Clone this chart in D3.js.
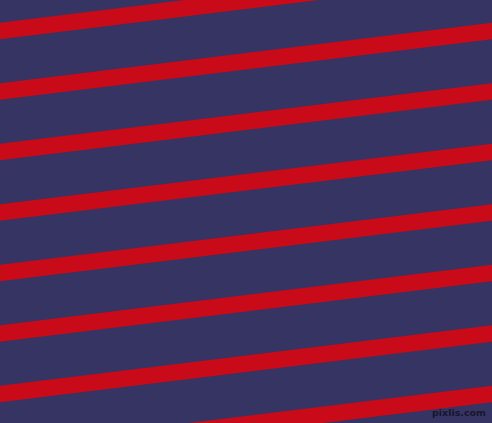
<!DOCTYPE html>
<html>
<head>
<meta charset="utf-8">
<script src="https://cdn.jsdelivr.net/npm/d3@7"></script>
<style>
  html, body { margin: 0; padding: 0; background: #353462; overflow: hidden; }
</style>
</head>
<body>
<div class="svg"></div>
<script>
// stripe pattern: index of each red band, band angle and spacing
var stripeIndex = [-1, 0, 1, 2, 3, 4, 5, 6, 7];
var stripeAngle = 7;        // degrees, bands rise to the right
var stripePeriod = 60.05;   // distance between bands, measured across them
var stripeFirst = 22.5;     // offset of band 0
var stripeWidth = 16.4;
var watermark = ['pixlis.com'];

var width = 492;
var height = 423;

var svg = d3.select('div.svg')
    .append('svg')
    .attr('width', width)
    .attr('height', height)

svg.append('rect')
    .attr('width', width)
    .attr('height', height)
    .attr('fill', '#353462')

var v = d3.scaleLinear()
    .domain([0, 1])
    .range([stripeFirst, stripeFirst + stripePeriod])

var bands = svg.append('g')
    .attr('transform', 'rotate(' + (-stripeAngle) + ')')

bands.selectAll('.band')
    .data(stripeIndex)
    .enter()
    .append('rect')
    .attr('class', 'band')
    .attr('x', -100)
    .attr('y', d => v(d))
    .attr('width', 800)
    .attr('height', stripeWidth)
    .attr('fill', '#c90a18')

svg.selectAll('.mark')
    .data(watermark)
    .enter()
    .append('text')
    .attr('class', 'mark')
    .attr('x', 486)
    .attr('y', 416)
    .attr('text-anchor', 'end')
    .attr('font-family', 'DejaVu Sans, sans-serif')
    .attr('font-size', 9.5)
    .attr('font-weight', 'bold')
    .attr('fill', '#17162f')
    .text(d => d)
</script>
</body>
</html>
